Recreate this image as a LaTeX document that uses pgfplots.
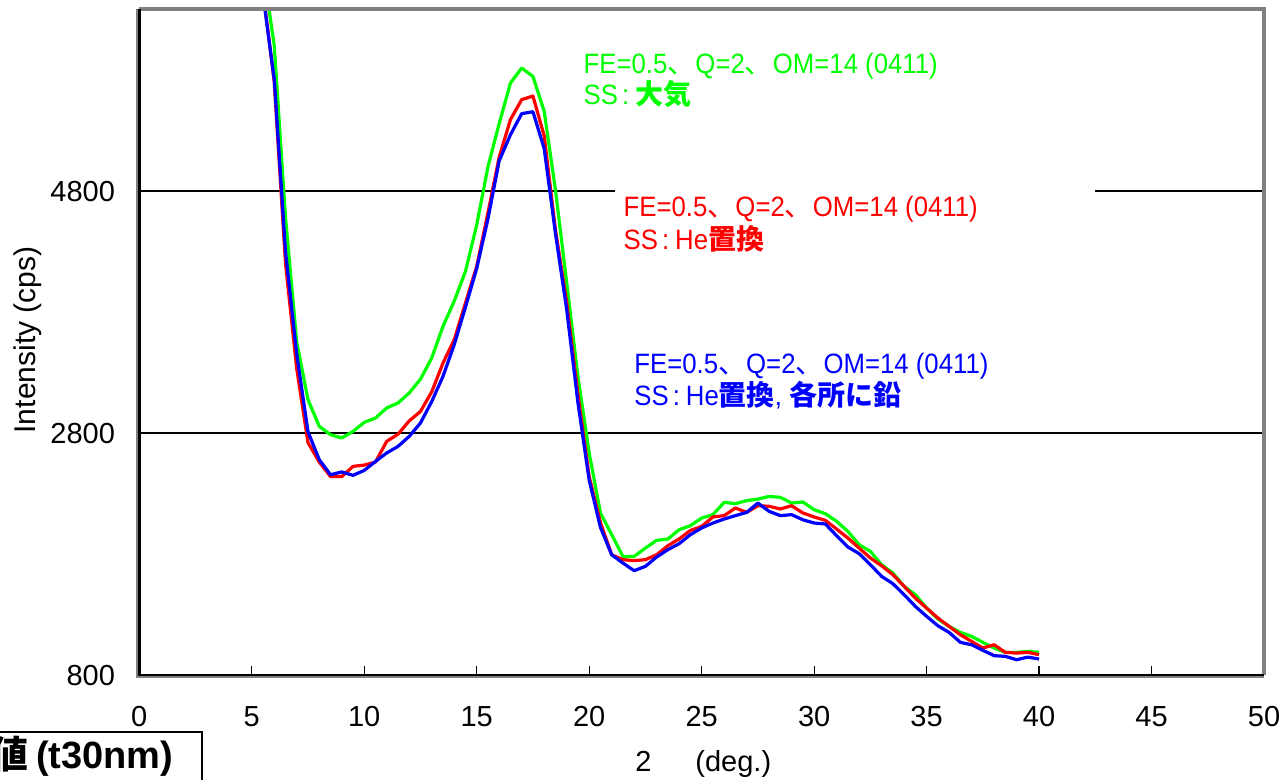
\documentclass[border=0pt]{standalone}
\usepackage{fontspec}
\setmainfont{Liberation Sans}
\newfontfamily\jp{Noto Sans CJK JP}
\newfontfamily\ann[FakeStretch=0.92]{Liberation Sans}
\usepackage{pgfplots}
\usepackage{pgfplotstable}
\pgfplotsset{compat=1.18}
\definecolor{cgreen}{RGB}{0,255,0}
\definecolor{cred}{RGB}{255,0,0}
\definecolor{cblue}{RGB}{0,0,255}
\definecolor{frame}{RGB}{128,128,128}

\pgfplotstableread{
x green red blue
5.5 6650 6450 6420
6.0 6000 5700 5720
6.5 4580 4200 4300
7.0 3550 3330 3450
7.5 3075 2720 2810
8.0 2855 2560 2580
8.5 2786 2440 2455
9.0 2759 2440 2478
9.5 2813 2524 2450
10.0 2888 2535 2491
10.5 2924 2560 2565
11.0 3007 2731 2635
11.5 3048 2790 2689
12.0 3131 2900 2772
12.5 3245 2978 2883
13.0 3420 3140 3060
13.5 3681 3378 3268
14.0 3890 3571 3530
14.5 4136 3874 3840
15.0 4520 4177 4160
15.5 5000 4620 4570
16.0 5358 5080 5050
16.5 5692 5390 5265
17.0 5816 5555 5439
17.5 5747 5585 5455
18.0 5458 5255 5150
18.5 4810 4480 4450
19.0 4042 3880 3820
19.5 3266 3120 3050
20.0 2635 2440 2410
20.5 2139 2060 2020
21.0 1960 1794 1794
21.5 1780 1753 1725
22.0 1780 1745 1662
22.5 1849 1753 1698
23.0 1913 1794 1775
23.5 1924 1869 1836
24.0 2001 1924 1885
24.5 2034 1995 1960
25.0 2097 2028 2015
25.5 2125 2106 2056
26.0 2227 2117 2089
26.5 2216 2180 2117
27.0 2241 2144 2144
27.5 2254 2199 2221
28.0 2276 2194 2152
28.5 2268 2172 2117
29.0 2221 2199 2125
29.5 2230 2139 2083
30.0 2166 2106 2056
30.5 2133 2078 2048
31.0 2070 2006 1951
31.5 1987 1932 1858
32.0 1877 1849 1803
32.5 1822 1767 1712
33.0 1712 1703 1615
33.5 1643 1629 1555
34.0 1533 1533 1464
34.5 1464 1436 1367
35.0 1353 1353 1285
35.5 1263 1271 1207
36.0 1202 1202 1152
36.5 1152 1133 1070
37.0 1119 1078 1050
37.5 1070 1023 1004
38.0 1023 1050 960
38.5 987 987 954
39.0 987 981 926
39.5 995 987 948
40.0 987 968 932
}\datatable

\begin{document}
\begin{tikzpicture}[x=1pt,y=1pt]
\begin{axis}[
  at={(0,0)}, anchor=south west,
  scale only axis, width=562.35pt, height=332.75pt,
  xmin=0, xmax=50, ymin=800, ymax=6300,
  xtick={0,5,...,50}, ytick={800,2800,4800},
  xtick pos=bottom, ytick pos=left,
  axis line style={draw=none},
  ymajorgrids, grid style={black, line width=0.6pt},
  tick align=inside, major tick length=4.5pt,
  tick style={black, line width=0.6pt},
  /pgf/number format/assume math mode=true,
  /pgf/number format/set thousands separator={},
  ticklabel style={font=\fontsize{14.5pt}{16pt}\selectfont, inner sep=0pt},
  xticklabel style={anchor=base, yshift=-26pt},
  yticklabel style={anchor=base east, xshift=-12pt, yshift=-5.5pt},
  clip mode=individual,
]
\fill[white] (axis cs:21.14,4650) rectangle (axis cs:42.48,4950);
\addplot[cgreen, line width=1.6pt, line join=round] table[x=x, y=green] {\datatable};
\addplot[cred, line width=1.6pt, line join=round] table[x=x, y=red] {\datatable};
\addplot[cblue, line width=1.6pt, line join=round] table[x=x, y=blue] {\datatable};
\draw[frame, line width=2pt] (rel axis cs:0,1) -- (rel axis cs:1,1) -- (rel axis cs:1,0);
\draw[frame, line width=1pt] ([xshift=-1.2pt]rel axis cs:0,1) -- ([xshift=-1.2pt,yshift=-1.2pt]rel axis cs:0,0) -- ([yshift=-1.2pt]rel axis cs:1,0);
\draw[black, line width=1.4pt] (rel axis cs:0,1) -- (rel axis cs:0,0) -- (rel axis cs:1,0);
\end{axis}

% y label
\node[rotate=90, font=\fontsize{15pt}{17pt}\selectfont] at (-55.65,167.5) {Intensity (cps)};
% x label (theta glyph missing in the original)
\node[anchor=base west, inner sep=0pt, font=\fontsize{14.5pt}{16pt}\selectfont] at (247.85,-48.35) {2};
\node[anchor=base west, inner sep=0pt, font=\fontsize{14.5pt}{16pt}\selectfont] at (277.85,-48.35) {(deg.)};

% annotations
\begin{scope}[every node/.style={anchor=base west, inner sep=0pt, font=\ann\fontsize{14pt}{16pt}\selectfont}]
\node[text=cgreen] at (222,300.85) {FE=0.5{\jp 、}Q=2{\jp 、}OM=14 (0411)};
\node[text=cgreen] at (222,285) {SS\hspace{2pt}:\hspace{3pt}{\jp\bfseries 大気}};
\node[text=cred] at (242,229.15) {FE=0.5{\jp 、}Q=2{\jp 、}OM=14 (0411)};
\node[text=cred] at (242,212.85) {SS\hspace{2pt}:\hspace{3pt}He{\jp\bfseries 置換}};
\node[text=cblue] at (247.35,150.5) {FE=0.5{\jp 、}Q=2{\jp 、}OM=14 (0411)};
\node[text=cblue] at (247.35,134.5) {SS\hspace{2pt}:\hspace{3pt}He{\jp\bfseries 置換}, {\jp\bfseries 各所に鉛}};
\end{scope}

% partially visible box at bottom left
\draw[black, line width=1pt] (-90,-28.35) -- (31.2,-28.35) -- (31.2,-70);
\node[anchor=base east, inner sep=0pt, font=\bfseries\fontsize{19pt}{21pt}\selectfont] at (17.2,-46.5) {{\jp 値}\hspace{4pt}(t30nm)};

\pgfresetboundingbox
\useasboundingbox (-69.65,-52.5) rectangle (574.35,337.5);
\end{tikzpicture}
\end{document}
